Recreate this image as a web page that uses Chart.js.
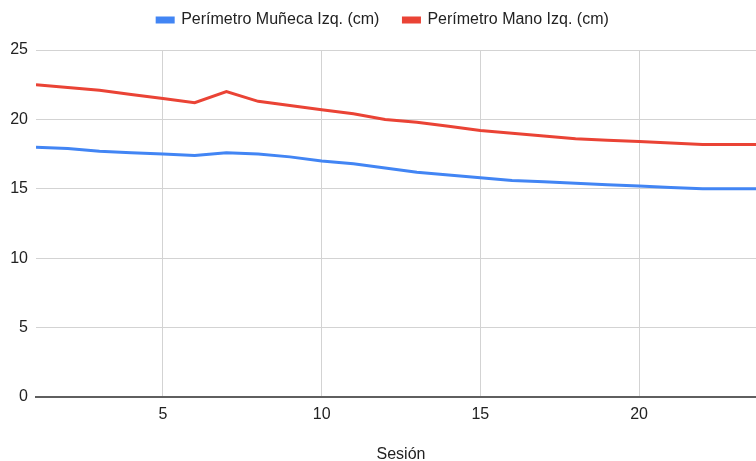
<!DOCTYPE html>
<html>
<head>
<meta charset="utf-8">
<script src="https://cdn.jsdelivr.net/npm/chart.js@4"></script>
<style>
  html, body { margin: 0; padding: 0; background: #fff; overflow: hidden; }
  #wrap { width: 770px; height: 461px; }
</style>
</head>
<body>
<div id="wrap"><canvas id="c" width="770" height="461"></canvas></div>
<script>
// Sessions and left-arm measurements (cm)
const sesiones = [1,2,3,4,5,6,7,8,9,10,11,12,13,14,15,16,17,18,19,20,21,22,23,24];
const perimetroMuneca = [18.0, 17.9, 17.7, 17.6, 17.5, 17.4, 17.6, 17.5, 17.3, 17.0, 16.8, 16.5, 16.2, 16.0, 15.8, 15.6, 15.5, 15.4, 15.3, 15.2, 15.1, 15.0, 15.0, 15.0];
const perimetroMano   = [22.5, 22.3, 22.1, 21.8, 21.5, 21.2, 22.0, 21.3, 21.0, 20.7, 20.4, 20.0, 19.8, 19.5, 19.2, 19.0, 18.8, 18.6, 18.5, 18.4, 18.3, 18.2, 18.2, 18.2];
const xTicks = [5, 10, 15, 20];
const yTicks = [0, 5, 10, 15, 20, 25];

const FONT = '"Liberation Sans", Arial, sans-serif';
const TEXT = '#222222';
const LEGEND_HEIGHT = 62; // legend band, including the gap above the plot

const toPoints = (vals) => vals.map((v, i) => ({ x: sesiones[i], y: v }));

// Give the legend a fixed band so the plot starts lower than the legend row.
const legendBand = {
  id: 'legendBand',
  beforeLayout(chart) {
    const lg = chart.legend;
    if (lg && !lg._bandFit) {
      const fit = lg.fit.bind(lg);
      lg.fit = function () { fit(); this.height = LEGEND_HEIGHT; };
      lg._bandFit = true;
    }
  }
};

new Chart(document.getElementById('c'), {
  type: 'line',
  data: {
    datasets: [
      {
        label: 'Perímetro Muñeca Izq. (cm)',
        data: toPoints(perimetroMuneca),
        borderColor: '#4285F4',
        backgroundColor: '#4285F4',
        borderWidth: 3,
        pointRadius: 0,
        tension: 0
      },
      {
        label: 'Perímetro Mano Izq. (cm)',
        data: toPoints(perimetroMano),
        borderColor: '#EA4335',
        backgroundColor: '#EA4335',
        borderWidth: 3,
        pointRadius: 0,
        tension: 0
      }
    ]
  },
  plugins: [legendBand],
  options: {
    responsive: false,
    animation: false,
    layout: { padding: { top: -12, right: 4, left: 0, bottom: 0 } },
    plugins: {
      tooltip: { enabled: false },
      legend: {
        position: 'top',
        labels: {
          boxWidth: 16,
          boxHeight: 4,
          padding: 24,
          color: TEXT,
          font: { family: FONT, size: 16 }
        }
      }
    },
    scales: {
      x: {
        type: 'linear',
        min: 1,
        max: 24,
        afterBuildTicks: (s) => { s.ticks = xTicks.map(v => ({ value: v })); },
        afterFit: (s) => { s.height = 64; },
        grid: { color: '#d3d3d3', lineWidth: 1, drawTicks: false },
        border: { display: true, color: '#5f5f5f', width: 2 },
        ticks: {
          color: TEXT,
          padding: 8,
          maxRotation: 0,
          font: { family: FONT, size: 16 }
        },
        title: {
          display: true,
          text: 'Sesión',
          color: TEXT,
          font: { family: FONT, size: 16, lineHeight: 0.8 },
          padding: { top: 0, bottom: 0 }
        }
      },
      y: {
        min: 0,
        max: 25,
        afterBuildTicks: (s) => { s.ticks = yTicks.map(v => ({ value: v })); },
        afterFit: (s) => { s.width = 36; },
        grid: {
          color: (ctx) => ctx.tick && ctx.tick.value === 0 ? '#5f5f5f' : '#d3d3d3',
          lineWidth: 1,
          drawTicks: false
        },
        border: { display: false },
        ticks: {
          color: TEXT,
          padding: 8,
          font: { family: FONT, size: 16 }
        }
      }
    }
  }
});
</script>
</body>
</html>
